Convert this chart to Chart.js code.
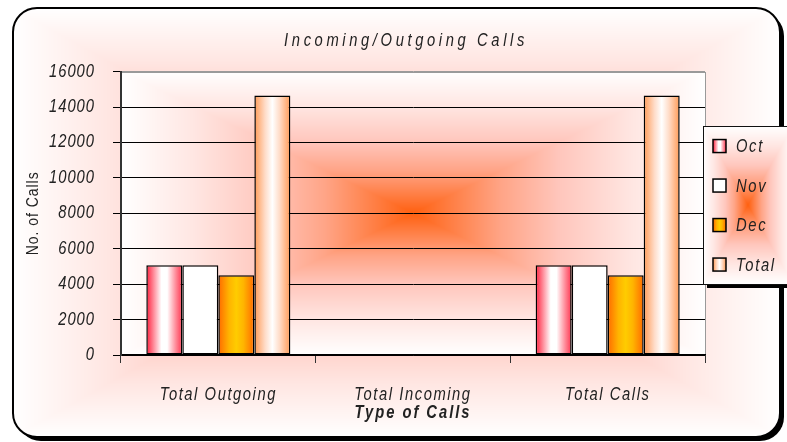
<!DOCTYPE html>
<html>
<head>
<meta charset="utf-8">
<script src="https://cdn.jsdelivr.net/npm/chart.js@4.4.1/dist/chart.umd.min.js"></script>
<style>
  html, body { margin: 0; padding: 0; background: #ffffff; }
  #wrap { width: 787px; height: 442px; }
</style>
</head>
<body>
<div id="wrap"><canvas id="chart" width="787" height="442"></canvas></div>
<script>
// ---- data ----
const categories = ['Total Outgoing', 'Total Incoming', 'Total Calls'];
const seriesNames = ['Oct', 'Nov', 'Dec', 'Total'];
const octCalls = [5070, 0, 5070];
const novCalls = [5070, 0, 5070];
const decCalls = [4500, 0, 4500];
const totalCalls = [14650, 0, 14650];
const yTicks = [0, 2000, 4000, 6000, 8000, 10000, 12000, 14000, 16000];
const chartTitle = 'Incoming/Outgoing Calls';
const xTitle = 'Type of Calls';
const yTitle = 'No. of Calls';

const seriesValues = [octCalls, novCalls, decCalls, totalCalls];

// ---- styles ----
const FONT = "'Liberation Sans', Arial, sans-serif";
const TEXT = '#222222';
const CONDENSE = 0.82;   // narrow lettering: glyphs squeezed horizontally

// horizontal "from centre" fills for each series
const seriesFills = [
  [[0, '#ff1e3c'], [0.2, '#ff8a98'], [0.42, '#ffffff'], [0.58, '#ffffff'], [0.82, '#ff8a98'], [1, '#ff3550']],
  '#ffffff',
  [[0, '#ff6a00'], [0.3, '#ffb400'], [0.5, '#ffcc00'], [0.7, '#ffb400'], [1, '#ff6a00']],
  [[0, '#ff9a55'], [0.3, '#ffdcc8'], [0.5, '#ffffff'], [0.7, '#ffdcc8'], [1, '#ff9a55']]
];

function linearFill(c2d, style, left, right) {
  if (typeof style === 'string') return style;
  const g = c2d.createLinearGradient(left, 0, right, 0);
  style.forEach(([o, col]) => g.addColorStop(o, col));
  return g;
}

function barBackground(ctx, i) {
  const style = seriesFills[i];
  if (typeof style === 'string') return style;
  const el = ctx.element;
  if (!el || !isFinite(el.x) || !isFinite(el.width)) return style[2][1];
  return linearFill(ctx.chart.ctx, style, el.x - el.width / 2, el.x + el.width / 2);
}

// rectangular glow: orange centre fading out to white at the edges
const glowStops = [
  [0, [255, 96, 16]], [0.12, [255, 124, 64]], [0.3, [255, 164, 134]],
  [0.5, [255, 198, 188]], [0.75, [255, 230, 226]], [1, [255, 255, 255]]
];
const glowCache = {};
function glowImage(w, h) {
  w = Math.max(1, Math.round(w)); h = Math.max(1, Math.round(h));
  const key = w + 'x' + h;
  if (glowCache[key]) return glowCache[key];
  const cv = document.createElement('canvas');
  cv.width = w; cv.height = h;
  const g = cv.getContext('2d');
  const img = g.createImageData(w, h);
  const cx = w / 2, cy = h / 2;
  for (let y = 0; y < h; y++) {
    for (let x = 0; x < w; x++) {
      const t = Math.min(1, Math.max(Math.abs(x + 0.5 - cx) / cx, Math.abs(y + 0.5 - cy) / cy));
      let k = 1;
      while (k < glowStops.length - 1 && glowStops[k][0] < t) k++;
      const [t0, c0] = glowStops[k - 1], [t1, c1] = glowStops[k];
      const f = (t - t0) / (t1 - t0);
      const p = (y * w + x) * 4;
      img.data[p] = c0[0] + (c1[0] - c0[0]) * f;
      img.data[p + 1] = c0[1] + (c1[1] - c0[1]) * f;
      img.data[p + 2] = c0[2] + (c1[2] - c0[2]) * f;
      img.data[p + 3] = 255;
    }
  }
  g.putImageData(img, 0, 0);
  glowCache[key] = cv;
  return cv;
}

function roundRectPath(c, x, y, w, h, r) {
  c.beginPath();
  c.moveTo(x + r, y);
  c.lineTo(x + w - r, y);
  c.arcTo(x + w, y, x + w, y + r, r);
  c.lineTo(x + w, y + h - r);
  c.arcTo(x + w, y + h, x + w - r, y + h, r);
  c.lineTo(x + r, y + h);
  c.arcTo(x, y + h, x, y + h - r, r);
  c.lineTo(x, y + r);
  c.arcTo(x, y, x + r, y, r);
  c.closePath();
}

// narrow text: every string on this canvas is drawn squeezed around its anchor
const canvas = document.getElementById('chart');
const c2d = canvas.getContext('2d');
const nativeFillText = c2d.fillText.bind(c2d);
const nativeMeasure = c2d.measureText.bind(c2d);
c2d.fillText = function (text, x, y) {
  this.save();
  this.translate(x, y);
  this.scale(CONDENSE, 1);
  nativeFillText(text, 0, 0);
  this.restore();
};
c2d.measureText = function (text) {
  const m = nativeMeasure(text);
  return {
    width: m.width * CONDENSE,
    actualBoundingBoxAscent: m.actualBoundingBoxAscent,
    actualBoundingBoxDescent: m.actualBoundingBoxDescent,
    actualBoundingBoxLeft: m.actualBoundingBoxLeft * CONDENSE,
    actualBoundingBoxRight: m.actualBoundingBoxRight * CONDENSE
  };
};

// frame, background glow and plot-area glow
const backdrop = {
  id: 'backdrop',
  beforeDraw(chart) {
    const c = chart.ctx;
    const fx = 13, fy = 8, fw = chart.width - 20, fh = chart.height - 13, r = 24;
    c.save();
    roundRectPath(c, fx + 4, fy + 4, fw, fh, r);
    c.fillStyle = '#000000';
    c.fill();
    roundRectPath(c, fx, fy, fw, fh, r);
    c.save();
    c.clip();
    c.drawImage(glowImage(fw, fh), fx, fy);
    c.restore();
    c.lineWidth = 2;
    c.strokeStyle = '#000000';
    c.stroke();

    const a = chart.chartArea;
    c.drawImage(glowImage(a.right - a.left, a.bottom - a.top), a.left, a.top, a.right - a.left, a.bottom - a.top);
    c.lineWidth = 1;
    c.strokeStyle = '#9a9a9a';
    c.strokeRect(Math.round(a.left) + 0.5, Math.round(a.top) + 0.5, Math.round(a.right - a.left), Math.round(a.bottom - a.top));
    c.restore();
  }
};

// per-element letter spacing (and optional horizontal nudge) for the spaced-out lettering
function withSpacing(obj, method, spacing, dx = 0) {
  if (!obj || obj['_sp_' + method]) return;
  const orig = obj[method];
  obj[method] = function (...args) {
    const c = this.ctx;
    c.save();
    c.letterSpacing = spacing;
    c.translate(dx, 0);
    const res = orig.apply(this, args);
    c.restore();
    return res;
  };
  obj['_sp_' + method] = true;
}
const spacing = {
  id: 'spacing',
  afterLayout(chart) {
    withSpacing(chart.titleBlock, 'draw', '4.4px', -7);
    withSpacing(chart.scales.x, 'drawLabels', '1.9px');
    withSpacing(chart.scales.x, 'drawTitle', '2.4px');
    withSpacing(chart.scales.y, 'drawLabels', '1.2px');
    withSpacing(chart.scales.y, 'drawTitle', '1.2px');
  }
};

// boxed legend at the right edge of the plot
const sideLegend = {
  id: 'sideLegend',
  afterDraw(chart) {
    const c = chart.ctx;
    const a = chart.chartArea;
    const step = 39.5;
    const mid = (a.top + a.bottom) / 2 - 8;
    const L = Math.round(a.right) - 2, R = chart.width + 6;
    const T = Math.round(mid - 79), B = Math.round(mid + 79);
    c.save();
    c.fillStyle = '#000000';
    c.fillRect(L + 4, B, R - L, 4);
    c.drawImage(glowImage(R - L, B - T), L, T);
    c.lineWidth = 1;
    c.strokeStyle = '#111111';
    c.strokeRect(L + 0.5, T + 0.5, R - L, B - T);

    c.font = 'italic 18px ' + FONT;
    c.letterSpacing = '2px';
    c.textBaseline = 'middle';
    c.textAlign = 'left';
    chart.data.datasets.forEach((ds, i) => {
      const cy = mid + (i - (chart.data.datasets.length - 1) / 2) * step;
      const sx = L + 10, sw = 13;
      c.fillStyle = linearFill(c, seriesFills[i], sx, sx + sw);
      c.fillRect(sx, cy - sw / 2, sw, sw);
      c.lineWidth = 1.5;
      c.strokeStyle = '#000000';
      c.strokeRect(sx, cy - sw / 2, sw, sw);
      c.fillStyle = TEXT;
      c.fillText(ds.label, sx + sw + 10, cy + 1);
    });
    c.restore();
  }
};

const chart = new Chart(canvas, {
  type: 'bar',
  data: {
    labels: categories,
    datasets: seriesNames.map((name, i) => ({
      label: name,
      data: seriesValues[i],
      backgroundColor: (ctx) => barBackground(ctx, i),
      borderColor: '#000000',
      borderWidth: 1.5,
      borderSkipped: false,
      categoryPercentage: 0.74,
      barPercentage: 1.0
    }))
  },
  options: {
    responsive: false,
    devicePixelRatio: 1,
    animation: false,
    layout: { padding: { left: 0, right: 82, top: 0, bottom: 0 } },
    plugins: {
      legend: { display: false },
      tooltip: { enabled: false },
      title: {
        display: true,
        text: chartTitle,
        fullSize: false,
        color: TEXT,
        font: { family: FONT, size: 18, style: 'italic', weight: 'normal' },
        padding: { top: 30, bottom: 20 }
      }
    },
    scales: {
      x: {
        offset: true,
        grid: { drawOnChartArea: false, drawTicks: true, tickLength: 8, tickColor: '#333333', offset: true },
        border: { display: true, color: '#000000', width: 1.5 },
        ticks: { color: TEXT, padding: 21, font: { family: FONT, size: 18, style: 'italic' }, maxRotation: 0, autoSkip: false },
        title: { display: true, text: xTitle, color: TEXT, padding: { top: 0, bottom: 18 }, font: { family: FONT, size: 18, style: 'italic', weight: 'bold' } },
        afterFit: (s) => { s.height = 87; }
      },
      y: {
        min: yTicks[0],
        max: yTicks[yTicks.length - 1],
        afterBuildTicks: (s) => { s.ticks = yTicks.map(v => ({ value: v })); },
        grid: {
          color: (ctx) => (ctx.tick && ctx.tick.value === yTicks[yTicks.length - 1]) ? '#9a9a9a' : '#000000',
          tickColor: '#000000',
          lineWidth: 1,
          tickLength: 8
        },
        border: { display: true, color: '#333333', width: 2 },
        ticks: { color: TEXT, padding: 18, callback: (v) => String(v), font: { family: FONT, size: 18, style: 'italic' } },
        title: { display: true, text: yTitle, color: TEXT, padding: { top: 23, bottom: 0 }, font: { family: FONT, size: 17, style: 'normal' } },
        afterFit: (s) => { s.width = 121; }
      }
    }
  },
  plugins: [backdrop, spacing, sideLegend]
});
chart.update();
</script>
</body>
</html>
